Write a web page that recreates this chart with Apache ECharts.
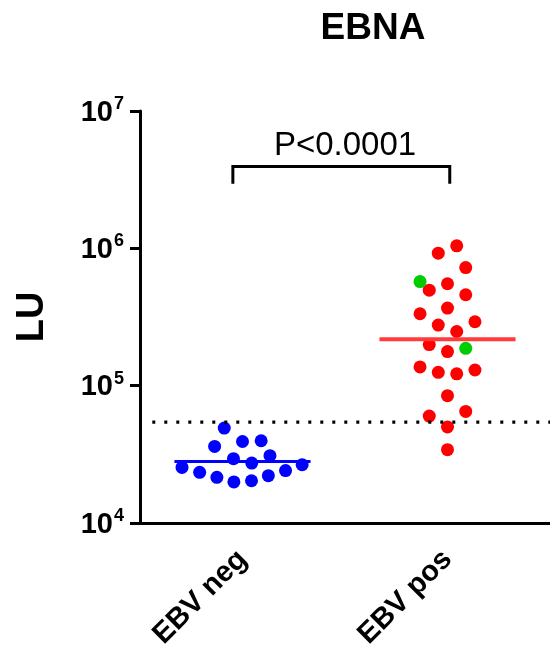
<!DOCTYPE html>
<html>
<head>
<meta charset="utf-8">
<script src="https://cdn.jsdelivr.net/npm/echarts@6/dist/echarts.min.js"></script>
<style>
  html, body { margin: 0; padding: 0; background: #fff; }
  #chart { width: 550px; height: 652px; }
</style>
</head>
<body>
<div id="chart"></div>
<script>
// categories and read-off values (LU, log scale)
var categories = ['EBV neg', 'EBV pos'];

var negValues  = [49100, 36100, 39200, 39700, 29400, 27300, 30900, 25400, 23400, 21500, 19900, 20300, 22100, 24100, 26600];
var negOffsets = [-0.089, -0.136, 0, 0.091, -0.044, 0.045, 0.134, -0.295, -0.209, -0.125, -0.042, 0.044, 0.126, 0.210, 0.291];

var posValues  = [1043000, 922000, 724000, 496000, 552000, 459000, 367000, 334000, 276000, 292000, 248000, 199000, 177000,
                  137000, 125000, 122000, 130000, 84500, 60100, 64900, 50000, 34200];
var posOffsets = [0.045, -0.045, 0.089, -0.089, 0, 0.089, 0, -0.134, -0.045, 0.134, 0.045, -0.089, 0,
                  -0.134, -0.045, 0.045, 0.134, 0, -0.089, 0.089, 0, 0];

var posGreenValues  = [573000, 187000];
var posGreenOffsets = [-0.134, 0.089];

var medians = [28100, 218000];
var medianHalfWidth = 0.332;
var cutoff = 54300;
var pText = 'P<0.0001';
var bracketLow = 2950000, bracketHigh = 3940000;

var font = '"Liberation Sans", Arial, Helvetica, sans-serif';

function pts(center, offsets, values) {
    return values.map(function (v, i) { return [center + offsets[i], v]; });
}

var chart = echarts.init(document.getElementById('chart'));

var option = {
    backgroundColor: '#fff',
    animation: false,
    textStyle: { fontFamily: font },
    title: {
        text: 'EBNA',
        left: 368,
        top: 5,
        textAlign: 'center',
        textStyle: { fontFamily: font, fontSize: 37, fontWeight: 'bold', color: '#000' }
    },
    grid: { left: 140, top: 111, width: 414, height: 412 },
    xAxis: [{
        type: 'category',
        data: categories,
        axisLine: { onZero: false, lineStyle: { color: '#000', width: 3 } },
        axisTick: { alignWithLabel: true, length: 10, lineStyle: { color: '#000', width: 3 } },
        axisLabel: {
            rotate: 45, margin: 32, color: '#000',
            fontFamily: font, fontSize: 29, fontWeight: 'bold'
        },
        splitLine: { show: false }
    }, {
        type: 'value',
        min: -0.5, max: 1.5,
        show: false
    }],
    yAxis: {
        type: 'log',
        logBase: 10,
        min: 1e4, max: 1e7,
        name: 'LU',
        nameLocation: 'middle',
        nameRotate: 90,
        nameGap: 88,
        nameTextStyle: { fontFamily: font, fontSize: 38, fontWeight: 'bold', color: '#000' },
        axisLine: { show: true, onZero: false, lineStyle: { color: '#000', width: 3 } },
        axisTick: { show: true, length: 10, lineStyle: { color: '#000', width: 3 } },
        minorTick: { show: false },
        splitLine: { show: false },
        axisLabel: {
            margin: 16,
            formatter: function (v) {
                var e = Math.round(Math.log(v) / Math.LN10);
                return '{b|10}{s|' + e + '}';
            },
            rich: {
                b: { fontFamily: font, fontSize: 29, fontWeight: 'bold', color: '#000', lineHeight: 32, verticalAlign: 'bottom' },
                s: { fontFamily: font, fontSize: 18, fontWeight: 'bold', color: '#000', lineHeight: 32, verticalAlign: 'top', padding: [0, 0, 0, 1] }
            }
        }
    },
    series: [
        {   // cutoff
            type: 'line', xAxisIndex: 1, symbol: 'none', silent: true,
            data: [[-0.44, cutoff], [1.6, cutoff]],
            lineStyle: { color: '#000', width: 3.2, type: [3, 9], cap: 'butt' }
        },
        {   // neg median
            type: 'line', xAxisIndex: 1, symbol: 'none', silent: true,
            data: [[-medianHalfWidth, medians[0]], [medianHalfWidth, medians[0]]],
            lineStyle: { color: '#0000ff', width: 3 }
        },
        {   // pos median
            type: 'line', xAxisIndex: 1, symbol: 'none', silent: true,
            data: [[1 - medianHalfWidth, medians[1]], [1 + medianHalfWidth, medians[1]]],
            lineStyle: { color: '#ff3b3b', width: 4 }
        },
        {
            type: 'scatter', xAxisIndex: 1, symbolSize: 13,
            itemStyle: { color: '#0000ff', opacity: 1 },
            data: pts(0, negOffsets, negValues)
        },
        {
            type: 'scatter', xAxisIndex: 1, symbolSize: 13,
            itemStyle: { color: '#ff0000', opacity: 1 },
            data: pts(1, posOffsets, posValues)
        },
        {
            type: 'scatter', xAxisIndex: 1, symbolSize: 13,
            itemStyle: { color: '#00cc00', opacity: 1 },
            data: pts(1, posGreenOffsets, posGreenValues)
        },
        {   // significance bracket
            type: 'line', xAxisIndex: 1, symbol: 'none', silent: true,
            data: [[-0.047, bracketLow], [-0.047, bracketHigh], [1.011, bracketHigh], [1.011, bracketLow]],
            lineStyle: { color: '#000', width: 3, join: 'miter' }
        },
        {
            type: 'scatter', xAxisIndex: 1, symbolSize: 0, silent: true,
            itemStyle: { opacity: 1 },
            data: [[0.5, 5570000]],
            label: {
                show: true, position: 'inside', formatter: pText,
                fontFamily: font, fontSize: 33, color: '#000', opacity: 1
            }
        }
    ]
};

chart.setOption(option);
</script>
</body>
</html>
